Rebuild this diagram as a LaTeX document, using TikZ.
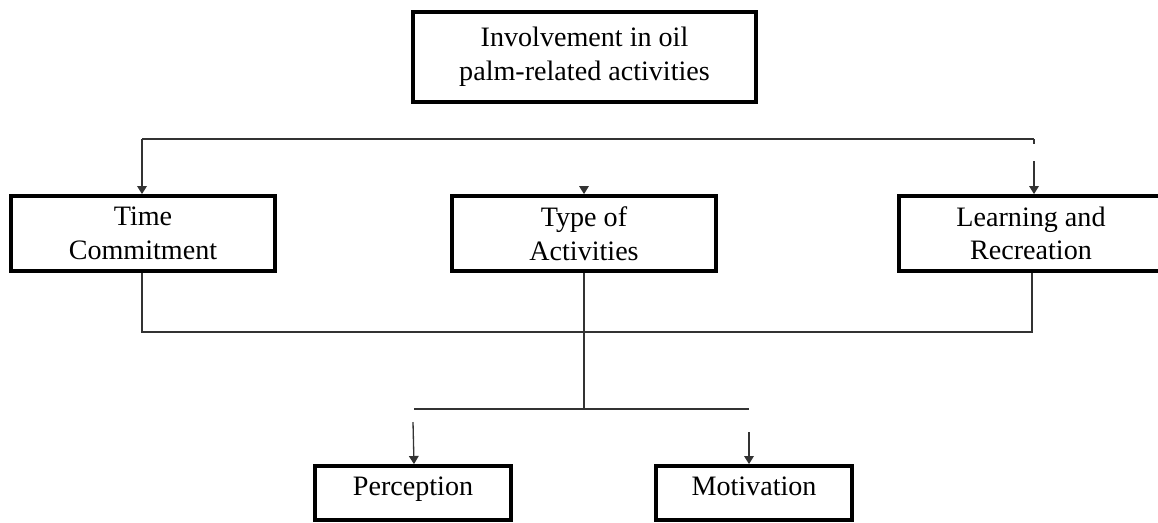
\documentclass[tikz,border=0pt]{standalone}
\usepackage{fontspec}
\setmainfont{Liberation Serif}
\usetikzlibrary{positioning}
\usetikzlibrary{calc}
\usetikzlibrary{arrows.meta}

\begin{document}
\begin{tikzpicture}[x=0.02cm, y=-0.02cm,
    box/.style={draw=black, line width=2.2pt, align=center, inner sep=0pt,
        font=\fontsize{16}{19.2}\selectfont},
    link/.style={draw=black!80, line width=0.75pt},
    arr/.style={link, -{Triangle[width=5.5pt, length=4.6pt]}}]
\useasboundingbox (0,0) rectangle (1158,522);
\clip (0,0) rectangle (1158,522);

% Boxes
\node[box, minimum width=6.86cm, minimum height=1.80cm] (inv) at (584.5,57) {Involvement in oil\\palm-related activities};

\node[box, minimum width=5.28cm, minimum height=1.50cm] (time) at (143,233.5) {Time\\Commitment};
\node[box, minimum width=5.28cm, minimum height=1.50cm] (type) at (584,233.5) {Type of\\Activities};
\node[box, minimum width=5.28cm, minimum height=1.50cm] (learn) at (1031,233.5) {Learning and\\Recreation};

\node[box, minimum width=3.92cm, minimum height=1.08cm, text height=0.65em, text depth=0.35em] (perc) at (413,493) {Perception};
\node[box, minimum width=3.92cm, minimum height=1.08cm, text height=0.65em, text depth=0.35em] (motiv) at (754,493) {Motivation};

% Upper connectors
\coordinate (tl) at (142,139);
\coordinate (tr) at (1034,139);
\draw[link] (tr) -- (tl);
\draw[arr] (tl) -- (tl |- time.north);
\draw[link] (tr) -- ++(0,5);
\draw[arr] ($(tr)+(0,22)$) -- (tr |- learn.north);
\draw[arr] ($(type.north)+(0,-7)$) -- (type.north);

% Lower connectors
\coordinate (bl) at (142,332);
\coordinate (br) at (1032,332);
\coordinate (mid) at (584,409);
\draw[link] (bl |- time.south) -- (bl) -- (br) -- (br |- learn.south);
\draw[link] (type.south) -- (mid);
\coordinate (pl) at (414,409);
\coordinate (pr) at (749,409);
\draw[link] (pl) -- (pr);
\draw[arr] ($(pl)+(-1,13)$) -- (pl |- perc.north);
\draw[arr] ($(pr)+(0,23)$) -- (pr |- motiv.north);
\end{tikzpicture}
\end{document}
